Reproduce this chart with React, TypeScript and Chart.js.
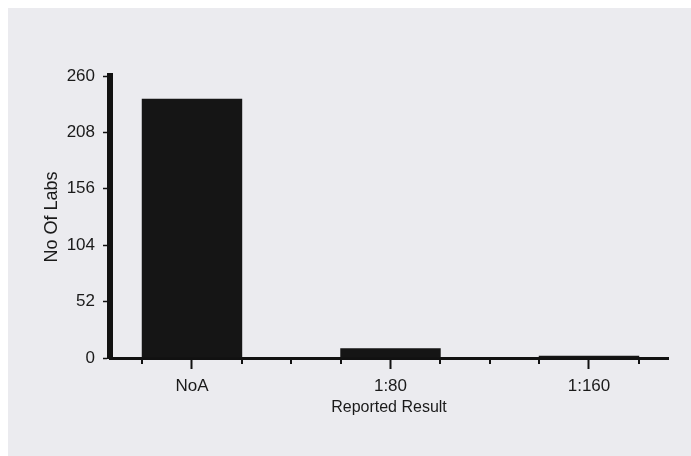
import React, { useEffect, useRef } from "react";
import { Chart, registerables } from "chart.js";

Chart.register(...registerables);

const categories: string[] = ["NoA", "1:80", "1:160"];
const labCounts: number[] = [239, 9, 2];
const yTickValues: number[] = [0, 52, 104, 156, 208, 260];
const minorTickValues: number[] = [-0.25, 0.25, 0.5, 0.75, 1.25, 1.5, 1.75, 2.25];

const xTitle = "Reported Result";
const yTitle = "No Of Labs";

const FONT = "'Liberation Sans', Arial, sans-serif";
const TEXT = "#1a1a1a";

const minorTicksPlugin = {
  id: "minorTicks",
  afterDraw(chart: any) {
    const scale = chart.scales.x;
    const ctx = chart.ctx;
    const top = chart.chartArea.bottom;
    ctx.save();
    ctx.strokeStyle = "#111";
    ctx.lineWidth = 2;
    ctx.beginPath();
    for (const v of minorTickValues) {
      const px = Math.round(scale.getPixelForValue(v));
      ctx.moveTo(px, top);
      ctx.lineTo(px, top + 6);
    }
    ctx.stroke();
    ctx.restore();
  },
};

export default function App() {
  const ref = useRef<HTMLCanvasElement | null>(null);

  useEffect(() => {
    if (!ref.current) return;
    const chart = new Chart(ref.current, {
      type: "bar",
      data: {
        datasets: [
          {
            data: categories.map((_, i) => ({ x: i, y: labCounts[i] })),
            backgroundColor: "#151515",
            borderWidth: 0,
            barPercentage: 0.506,
            categoryPercentage: 1,
          },
        ],
      },
      plugins: [minorTicksPlugin],
      options: {
        responsive: false,
        animation: false,
        events: [],
        layout: { padding: { top: 68, right: 23, bottom: 28, left: 0 } },
        plugins: { legend: { display: false }, tooltip: { enabled: false }, title: { display: false } },
        scales: {
          x: {
            type: "linear",
            offset: false,
            min: -0.413,
            max: 2.398,
            afterBuildTicks: (scale: any) => {
              scale.ticks = categories.map((_, i) => ({ value: i }));
            },
            afterFit: (scale: any) => {
              scale.height = 70;
            },
            grid: {
              offset: false,
              drawOnChartArea: false,
              drawTicks: true,
              tickLength: 11,
              tickWidth: 2,
              tickColor: "#111",
            },
            border: { display: true, color: "#111", width: 3 },
            ticks: {
              autoSkip: false,
              maxRotation: 0,
              padding: 7,
              color: TEXT,
              font: { family: FONT, size: 17 },
              callback: (v: any) => {
                const i = Math.round(Number(v));
                return Math.abs(Number(v) - i) < 1e-6 ? categories[i] ?? "" : "";
              },
            },
            title: {
              display: true,
              text: xTitle,
              color: TEXT,
              font: { family: FONT, size: 16 },
              padding: { top: 0, bottom: 11 },
            },
          },
          y: {
            type: "linear",
            min: 0,
            max: 260,
            afterBuildTicks: (scale: any) => {
              scale.ticks = yTickValues.map((v) => ({ value: v }));
            },
            afterFit: (scale: any) => {
              scale.width = 102;
            },
            grid: {
              drawOnChartArea: false,
              drawTicks: true,
              tickLength: 7,
              tickWidth: 1.5,
              tickColor: "#111",
            },
            border: { display: true, color: "#111", width: 6 },
            ticks: {
              padding: 8,
              color: TEXT,
              font: { family: FONT, size: 17 },
            },
            title: {
              display: true,
              text: yTitle,
              color: TEXT,
              font: { family: FONT, size: 18 },
              padding: { top: 33, bottom: 0 },
            },
          },
        },
      },
    });
    return () => chart.destroy();
  }, []);

  return (
    <div
      style={{
        position: "fixed",
        left: 8,
        top: 8,
        width: 683,
        height: 448,
        background: "#ebebef",
      }}
    >
      <canvas ref={ref} width={683} height={448} style={{ display: "block" }} />
    </div>
  );
}
